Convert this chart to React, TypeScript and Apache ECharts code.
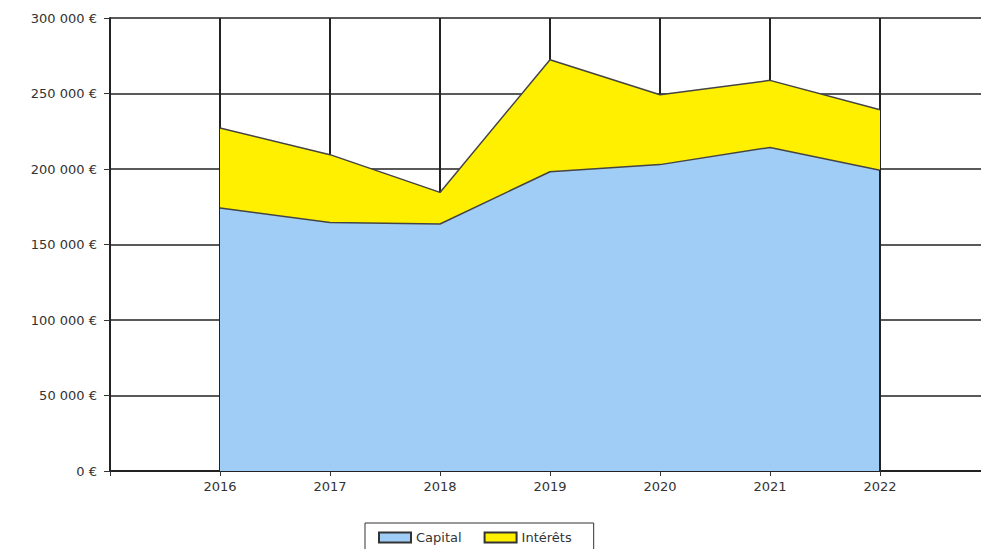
import React, { useEffect, useRef } from "react";
import * as echarts from "echarts";

const years = ["2016", "2017", "2018", "2019", "2020", "2021", "2022"];
const capital = [174200, 164600, 163600, 198200, 202900, 214300, 199100];
const interets = [53000, 44900, 20900, 74200, 46300, 44400, 40200];
const yTicks = [0, 50000, 100000, 150000, 200000, 250000, 300000];

const fmtEuro = (v: number) =>
  `${String(v).replace(/\B(?=(\d{3})+(?!\d))/g, " ")} €`;

export default function App() {
  const ref = useRef<HTMLDivElement>(null);
  useEffect(() => {
    if (!ref.current) return;
    const chart = echarts.init(ref.current, undefined, { renderer: "svg", width: 1000, height: 549 });
    const cats = ["", ...years, ""];
    const pad = (a: number[]) => [null, ...a, null];
    chart.setOption({
      animation: false,
      backgroundColor: "#ffffff",
      textStyle: { fontFamily: "DejaVu Sans" },
      grid: { left: 110, top: 18, width: 880, bottom: 78, containLabel: false },
      legend: {
        left: 365,
        top: 523,
        data: ["Capital", "Intérêts"],
        icon: "rect",
        itemWidth: 32,
        itemHeight: 10,
        itemGap: 22,
        padding: [8, 22, 10, 13],
        borderColor: "#333",
        borderWidth: 1,
        textStyle: { fontSize: 13, color: "#333", fontFamily: "DejaVu Sans" },
      },
      xAxis: {
        type: "category",
        data: cats,
        boundaryGap: false,
        axisLine: { show: true, lineStyle: { color: "#222", width: 2 } },
        axisTick: { show: true, inside: false, length: 5, lineStyle: { color: "#333" } },
        axisLabel: { color: "#333", fontSize: 13, margin: 9 },
        splitLine: {
          show: true,
          interval: (i: number) => i >= 1 && i <= years.length,
          lineStyle: { color: "#222", width: 2 },
        },
      },
      yAxis: {
        type: "value",
        min: yTicks[0],
        max: yTicks[yTicks.length - 1],
        interval: yTicks[1] - yTicks[0],
        axisLine: { show: true, lineStyle: { color: "#222", width: 2 } },
        axisTick: { show: true, length: 6, lineStyle: { color: "#333" } },
        axisLabel: { color: "#333", fontSize: 13, margin: 13, formatter: (v: number) => fmtEuro(v) },
        splitLine: { show: true, lineStyle: { color: "#222", width: 1.5 } },
      },
      series: [
        {
          name: "Capital",
          type: "line",
          stack: "total",
          data: pad(capital),
          symbol: "none",
          connectNulls: false,
          lineStyle: { color: "#444", width: 1.5 },
          itemStyle: { color: "#a0cdf5", borderColor: "#333", borderWidth: 1 },
          areaStyle: { color: "#a0cdf5", opacity: 1 },
          markLine: {
            silent: true,
            symbol: "none",
            label: { show: false },
            lineStyle: { color: "#222", width: 2, type: "solid" },
            data: [[{ coord: [years[years.length - 1], yTicks[0]] }, { coord: [years[years.length - 1], capital[capital.length - 1]] }]],
          },
        },
        {
          name: "Intérêts",
          type: "line",
          stack: "total",
          data: pad(interets),
          symbol: "none",
          connectNulls: false,
          lineStyle: { color: "#444", width: 1.5 },
          itemStyle: { color: "#fff000", borderColor: "#333", borderWidth: 1 },
          areaStyle: { color: "#fff000", opacity: 1 },
        },
      ],
    });
    return () => chart.dispose();
  }, []);
  return (
    <div style={{ position: "fixed", left: 0, top: 0, width: 981, height: 549, overflow: "hidden" }}>
      <div ref={ref} style={{ width: 1000, height: 549 }} />
    </div>
  );
}
